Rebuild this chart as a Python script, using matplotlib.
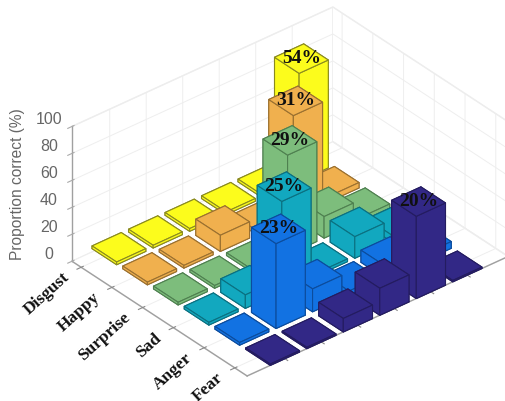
import matplotlib
matplotlib.use("Agg")
import matplotlib.pyplot as plt
from matplotlib.ticker import NullFormatter

emotions = ["Disgust", "Happy", "Surprise", "Sad", "Anger", "Fear"]
row_colors = ["#fcfc1c", "#f0b04e", "#7dbd7c", "#12a8bf", "#1272e2", "#322886"]
edge_colors = ["#8a8a20", "#9a7030", "#4f8050", "#0b7080", "#0c4c9c", "#241c60"]

disgust = [2, 2, 2, 2, 2, 80]
happy = [2, 2, 12, 3, 76, 4]
surprise = [2, 2, 2, 74, 16, 3]
sad = [2, 10, 67, 2, 16, 5]
anger = [2, 63, 17, 3, 9, 5]
fear = [1, 1, 10, 20, 61, 1]
heights = [disgust, happy, surprise, sad, anger, fear]

label_pos = [(1, 6), (2, 5), (3, 4), (4, 3), (5, 2), (6, 5)]
label_txt = ["54%", "31%", "29%", "25%", "23%", "20%"]

z_ticks = [0, 20, 40, 60, 80, 100]
W, H = 506, 401
fig = plt.figure(figsize=(W / 100, H / 100), dpi=100)
S = 600
cx, cy = 290, 209.5
ax = fig.add_axes([(cx - 0.5135 * S) / W, (cy - 0.5135 * S) / H, S / W, S / H],
                  projection="3d", proj_type="ortho", computed_zorder=False)
ax.patch.set_alpha(0)
fig.patch.set_facecolor("white")
ax.view_init(elev=33.2, azim=-39.9)
ax.set_xlim(0.7, 6.4)
ax.set_ylim(-0.035, 7.115)
ax.set_zlim(0, 100)
ax.set_box_aspect((273, 340, 161), zoom=451.4 / S)

w = 0.8
order = 1
for r in range(6):
    for c in range(5, -1, -1):
        ax.bar3d(r + 1 - w / 2, c + 1 - w / 2, 0, w, w, heights[r][c],
                 color=row_colors[r], edgecolor=edge_colors[r], linewidth=0.8,
                 shade=False, zorder=order)
        order += 1

for (r, c), t in zip(label_pos, label_txt):
    ax.text(r, c, heights[r - 1][c - 1], t, family="Liberation Serif", weight="bold",
            fontsize=14, color="#101010", ha="center", va="center", rotation=-4,
            zorder=1000)

ax.set_xticks(range(1, 7))
ax.set_xticklabels(emotions, family="Liberation Serif", weight="bold", fontsize=12.5,
                   rotation=42, ha="right", va="baseline", rotation_mode="anchor", color="#111111")
ax.set_yticks(range(1, 7))
ax.yaxis.set_major_formatter(NullFormatter())
ax.set_zticks(z_ticks)
ax.set_zticklabels([str(v) for v in z_ticks], family="Liberation Sans", fontsize=11.5,
                   color="#666666", va="bottom")
ax.zaxis.set_ticks_position("lower")

fig.text(18 / W, 1 - 184 / H, "Proportion correct (%)", family="Liberation Sans", fontsize=11.2,
         color="#666666", rotation=90, ha="center", va="center")

for axis in (ax.xaxis, ax.yaxis, ax.zaxis):
    axis.set_pane_color((1, 1, 1, 1))
    axis.pane.set_edgecolor("#ececec")
    axis._axinfo["grid"].update(color="#eeeeee", linewidth=0.7)
    axis.line.set_color("#a0a0a0")
    axis.line.set_linewidth(1.0)
ax.tick_params(axis="x", pad=2, color="#888888", labelcolor="#111111")
ax.tick_params(axis="y", color="#888888")
ax.tick_params(axis="z", pad=4, color="#aaaaaa", labelcolor="#666666")
for t in ax.yaxis.get_ticklabels():
    t.set_visible(False)
fig.savefig("out.png", dpi=100)
